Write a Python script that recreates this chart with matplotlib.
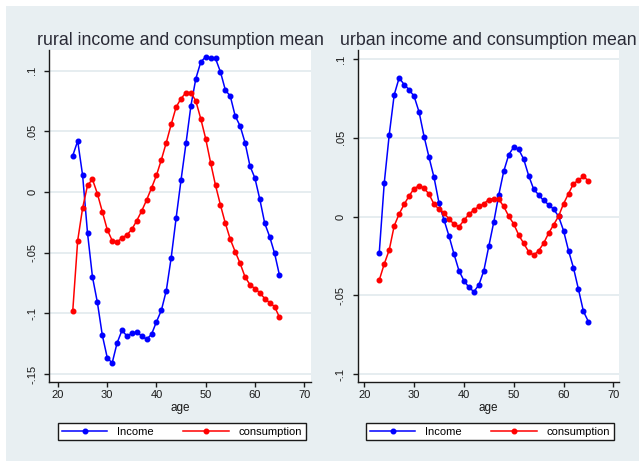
import matplotlib
matplotlib.use("Agg")
import matplotlib.pyplot as plt
from matplotlib.patches import Rectangle
from matplotlib.ticker import FuncFormatter

plt.rcParams['font.family'] = ['Liberation Sans', 'DejaVu Sans']

# Age-profile deviations from the mean, by area
ages = list(range(23, 66))

rural_income = [
    0.030, 0.042, 0.0137, -0.034, -0.070, -0.091, -0.118, -0.1365, -0.141, -0.1245,
    -0.114, -0.1187, -0.1165, -0.1154, -0.1187, -0.1214, -0.1173, -0.107, -0.0975, -0.0813,
    -0.054, -0.0214, 0.010, 0.040, 0.071, 0.0934, 0.107, 0.1115, 0.110, 0.110,
    0.099, 0.084, 0.079, 0.0626, 0.0544, 0.0407, 0.0214, 0.0115, -0.006, -0.0258,
    -0.0368, -0.0505, -0.0687,
]
rural_consumption = [
    -0.0978, -0.040, -0.0132, 0.0055, 0.0104, -0.0014, -0.0162, -0.031, -0.040, -0.0412,
    -0.0379, -0.0354, -0.0308, -0.0236, -0.0157, -0.0066, 0.0033, 0.0137, 0.0266, 0.0407,
    0.0558, 0.070, 0.077, 0.0819, 0.0819, 0.075, 0.0604, 0.044, 0.0242, 0.0055,
    -0.0107, -0.0258, -0.039, -0.0492, -0.0588, -0.070, -0.0764, -0.0797, -0.083, -0.0879,
    -0.0912, -0.0945, -0.1033,
]
urban_income = [
    -0.0229, 0.0212, 0.0519, 0.0773, 0.0881, 0.0837, 0.0805, 0.0763, 0.0663, 0.0508,
    0.0375, 0.0248, 0.0085, -0.0021, -0.0123, -0.0237, -0.0343, -0.0407, -0.0449, -0.0477,
    -0.0434, -0.0343, -0.0188, -0.0034, 0.0138, 0.0288, 0.0392, 0.0441, 0.0426, 0.0364,
    0.026, 0.0174, 0.0138, 0.0102, 0.0076, 0.0047, 0.0002, -0.0089, -0.0216, -0.0326,
    -0.0462, -0.0602, -0.0667,
]
urban_consumption = [
    -0.0403, -0.0301, -0.0212, -0.0059, 0.0017, 0.0078, 0.0131, 0.0178, 0.0195, 0.018,
    0.0142, 0.0078, 0.0047, 0.0025, -0.0017, -0.0047, -0.0064, -0.0025, 0.0015, 0.0042,
    0.0064, 0.0081, 0.0108, 0.0114, 0.0109, 0.0064, 0.0002, -0.0047, -0.0117, -0.017,
    -0.0223, -0.0245, -0.0217, -0.017, -0.0106, -0.0053, 0.0002, 0.0081, 0.0145, 0.0209,
    0.023, 0.0255, 0.0226,
]

titles = ["rural income and consumption mean", "urban income and consumption mean"]
series_labels = ["Income", "consumption"]
x_ticks = [20, 30, 40, 50, 60, 70]
left_y_ticks = [-0.15, -0.1, -0.05, 0, 0.05, 0.1]
right_y_ticks = [-0.1, -0.05, 0, 0.05, 0.1]

W, H = 639, 465
BG = '#e8eff2'
GRID = '#e1eaee'
TEXT = '#2a2a36'

fig = plt.figure(figsize=(W / 100, H / 100), dpi=100)
fig.patch.set_facecolor('white')
fig.patches.append(Rectangle((6 / W, 4 / H), 1 - 6 / W, (461 - 6) / H,
                             transform=fig.transFigure, facecolor=BG,
                             edgecolor='none', zorder=-10))


def stata_fmt(v, pos=None):
    if abs(v) < 1e-12:
        return "0"
    s = f"{v:g}"
    return s.replace("0.", ".")


def make_panel(rect, xlim, ylim, yticks, income, consumption, title, legend_cx):
    ax = fig.add_axes(rect)
    ax.set_facecolor('white')
    ax.set_xlim(*xlim)
    ax.set_ylim(*ylim)
    ax.set_xticks(x_ticks)
    ax.set_yticks(yticks)
    ax.yaxis.set_major_formatter(FuncFormatter(stata_fmt))
    ax.grid(axis='y', color=GRID, linewidth=1.2, zorder=0)
    ax.set_axisbelow(True)
    for side in ('top', 'right'):
        ax.spines[side].set_visible(False)
    for side in ('left', 'bottom'):
        ax.spines[side].set_color('#1a1a1a')
        ax.spines[side].set_linewidth(1.0)
    ax.tick_params(axis='both', direction='out', length=3.5, width=1.0,
                   color='#1a1a1a', labelsize=8, labelcolor='#1a1a1a')
    ax.tick_params(axis='y', pad=5)
    ax.tick_params(axis='x', pad=2.5)
    for lab in ax.get_yticklabels():
        lab.set_rotation(90)
        lab.set_va('center')
    ax.set_xlabel("age", fontsize=8.5, color='#1a1a1a', labelpad=1)

    h1, = ax.plot(ages, income, color='#0000ff', linewidth=1.1,
                  marker='o', markersize=3.3, label=series_labels[0])
    h2, = ax.plot(ages, consumption, color='#ff0000', linewidth=1.1,
                  marker='o', markersize=3.3, label=series_labels[1])

    cx = rect[0] + rect[2] / 2
    fig.text(cx, 1 - 45 / H, title, ha='center', va='baseline',
             fontsize=12.8, color=TEXT)

    leg = ax.legend(handles=[h1, h2], loc='center',
                    bbox_to_anchor=(legend_cx / W, 1 - 431.5 / H),
                    bbox_transform=fig.transFigure, ncol=2, numpoints=1,
                    fontsize=8, handlelength=4.1, handletextpad=0.9,
                    columnspacing=2.6, borderpad=0.35, borderaxespad=0,
                    fancybox=False, framealpha=1, facecolor='white',
                    edgecolor='#1a1a1a')
    leg.get_frame().set_linewidth(1.0)
    return ax


make_panel([49 / W, 83 / H, 262 / W, 332 / H], (18.17, 71.4), (-0.1566, 0.117),
           left_y_ticks, rural_income, rural_consumption, titles[0], 182)
make_panel([357.7 / W, 83 / H, 261.6 / W, 332 / H], (18.67, 71.2), (-0.105, 0.1057),
           right_y_ticks, urban_income, urban_consumption, titles[1], 490)

fig.savefig("out.png", dpi=100, facecolor=fig.get_facecolor())
